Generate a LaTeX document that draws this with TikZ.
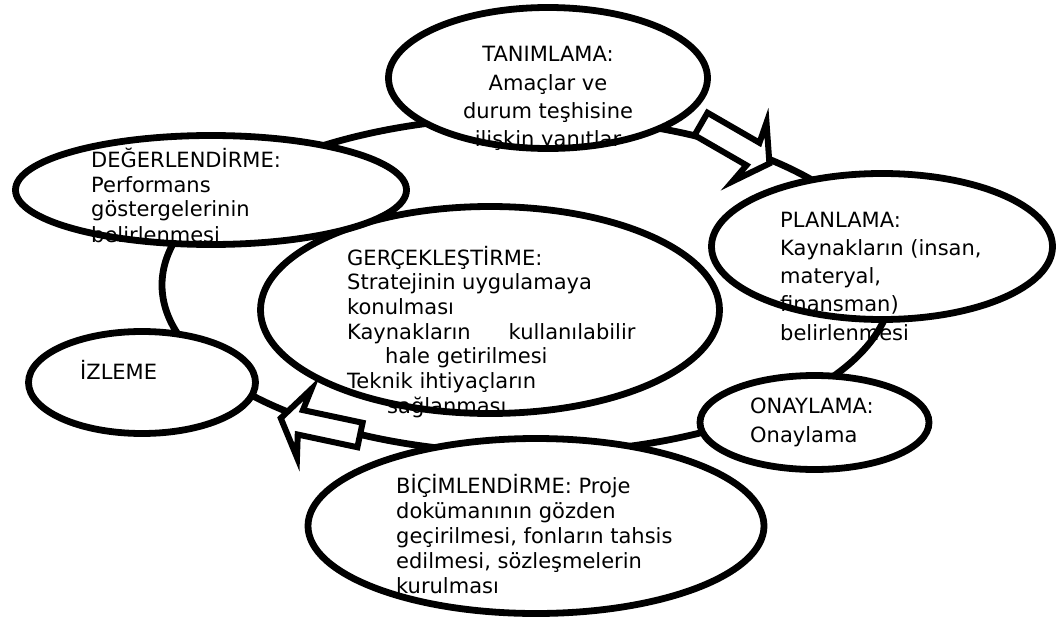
\documentclass[tikz,border=0pt]{standalone}
\usepackage{fontspec}
\setmainfont{DejaVu Sans}
\usetikzlibrary{shapes.geometric}
\newcommand\blockL[1]{\vtop{\halign{##\hfil\cr #1\crcr}}}
\newcommand\blockC[1]{\vtop{\halign{\hfil##\hfil\cr #1\crcr}}}
\begin{document}
\begin{tikzpicture}[x=1pt,y=-1pt,
  ell/.style={ellipse, draw=black, fill=white, line width=6.8pt, inner sep=0pt},
  lbl/.style={inner sep=0pt, anchor=base west, font=\fontsize{21}{25}\selectfont},
  loopline/.style={draw=black, line width=6.8pt},
  blockarrow/.style={draw=black, fill=white, line width=6pt, miter limit=10}]
\useasboundingbox (0,0) rectangle (1057,623);
% cycle
\draw[loopline] (527,285) ellipse [x radius=365pt, y radius=168pt];
% block arrows
\begin{scope}[shift={(701,124)}, rotate=-30]
  \draw[blockarrow] (0,-13) -- (60,-13) -- (56,-34) -- (79,0) -- (56,34) -- (60,13) -- (0,13) -- cycle;
\end{scope}
\begin{scope}[shift={(360,435)}, rotate=168]
  \draw[blockarrow] (0,-12.5) -- (61,-12.5) -- (57,-35) -- (81,0) -- (57,35) -- (61,12.5) -- (0,12.5) -- cycle;
\end{scope}
% ellipses
\node[ell, minimum width=319pt, minimum height=141pt] (tan) at (548,78) {};
\node[ell, minimum width=459pt, minimum height=207pt] (ger) at (490,310) {};
\node[ell, minimum width=391pt, minimum height=109pt] (deg) at (211,190) {};
\node[ell, minimum width=341pt, minimum height=146pt] (plan) at (882,246.5) {};
\node[ell, minimum width=227pt, minimum height=102pt] (izl) at (142,382.5) {};
\node[ell, minimum width=229pt, minimum height=94pt] (ona) at (814.5,422.5) {};
\node[ell, minimum width=456pt, minimum height=175pt] (bic) at (536,526) {};
% texts
\node[lbl, anchor=base, font=\fontsize{21}{28.3}\selectfont] (tanT) at (548,62)
  {\blockC{TANIMLAMA:\cr Amaçlar ve\cr durum teşhisine\cr ilişkin yanıtlar}};
\node[lbl] (degT) at (91,167)
  {\blockL{DEĞERLENDİRME:\cr Performans\cr göstergelerinin\cr belirlenmesi}};
\node[lbl, font=\fontsize{21}{28.3}\selectfont] (planT) at (780,227)
  {\blockL{PLANLAMA:\cr Kaynakların (insan,\cr materyal,\cr finansman)\cr belirlenmesi}};
\node[lbl, font=\fontsize{21}{24.7}\selectfont] (gerT) at (347,265)
  {\blockL{GERÇEKLEŞTİRME:\cr Stratejinin uygulamaya\cr konulması\cr Kaynakların\kern38pt kullanılabilir\cr \kern38pt hale getirilmesi\cr Teknik ihtiyaçların\cr \kern40pt sağlanması}};
\node[lbl] (izlT) at (80,379) {İZLEME};
\node[lbl, font=\fontsize{21}{29}\selectfont] (onaT) at (750,413)
  {\blockL{ONAYLAMA:\cr Onaylama}};
\node[lbl] (bicT) at (396,493)
  {\blockL{BİÇİMLENDİRME: Proje\cr dokümanının gözden\cr geçirilmesi, fonların tahsis\cr edilmesi, sözleşmelerin\cr kurulması}};
\end{tikzpicture}
\end{document}
